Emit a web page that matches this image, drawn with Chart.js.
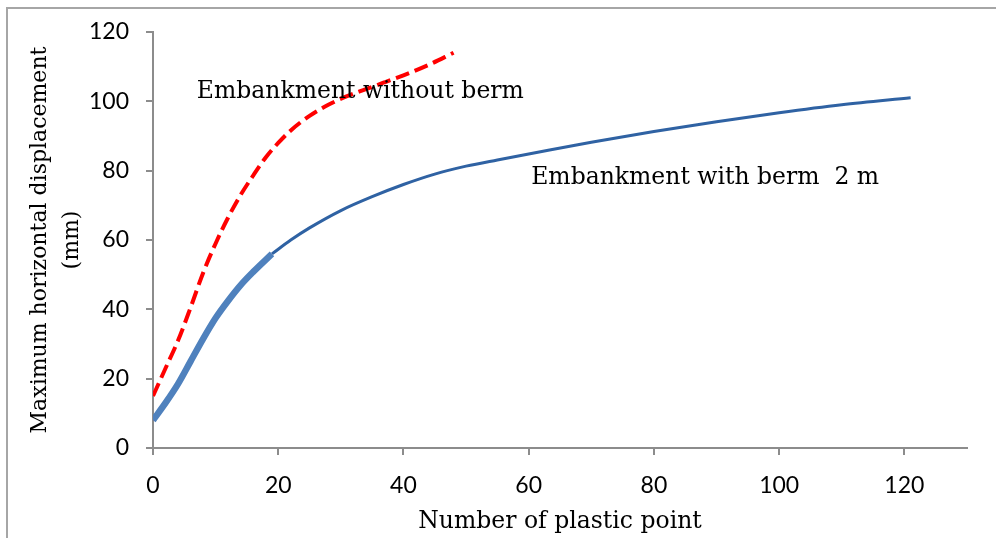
<!DOCTYPE html>
<html>
<head>
<meta charset="utf-8">
<script src="https://cdn.jsdelivr.net/npm/chart.js@4.4.1/dist/chart.umd.min.js"></script>
<style>
  html, body { margin: 0; padding: 0; background: #fff; }
  #wrap { position: relative; width: 996px; height: 538px; overflow: hidden; }
  #frame { position: absolute; left: 6px; top: 7px; right: -4px; bottom: -4px; border-top: 2px solid #a6a6a6; border-left: 2px solid #a6a6a6; pointer-events: none; }
  canvas { position: absolute; left: 0; top: 0; }
</style>
</head>
<body>
<div id="wrap">
  <canvas id="c" width="996" height="538"></canvas>
  <div id="frame"></div>
</div>
<script>
// ---- data ----
const withoutBermX = [0, 2, 4, 6, 8, 10, 12, 14, 16, 18, 20, 22, 25, 28, 31, 34, 37, 40, 44, 48];
const withoutBermY = [15, 23, 31, 40.5, 50.5, 59, 66.5, 73, 78.6, 83.8, 88, 91.6, 95.8, 99, 101.5, 103.5, 105.5, 107.5, 110.5, 114];

const bermEarlyX = [0, 2, 4, 6, 8, 10, 12, 14, 16, 19];
const bermEarlyY = [8, 13, 18.5, 25, 31.5, 37.5, 42.5, 47, 50.8, 56];

const bermLateX = [19, 22, 25, 30, 35, 40, 45, 50, 55, 60, 70, 80, 90, 100, 110, 121];
const bermLateY = [56, 60, 63.5, 68.5, 72.5, 76, 79, 81.3, 83.1, 84.8, 88.2, 91.3, 94.1, 96.7, 99, 101];

const xTicks = [0, 20, 40, 60, 80, 100, 120];
const yTicks = [0, 20, 40, 60, 80, 100, 120];

const xTitle = 'Number of plastic point';
const yTitle = ['Maximum horizontal displacement', '(mm)'];

const noteTexts = ['Embankment without berm', 'Embankment with berm  2 m'];
const noteX = [7.0, 60.4];
const noteY = [102.7, 77.9];

function pts(xs, ys) { return xs.map((x, i) => ({ x: x, y: ys[i] })); }

const notesPlugin = {
  id: 'notes',
  afterDatasetsDraw(chart) {
    const { ctx, scales } = chart;
    ctx.save();
    ctx.font = '23.5px "DejaVu Serif"';
    ctx.fillStyle = '#000';
    ctx.textAlign = 'left';
    ctx.textBaseline = 'middle';
    noteTexts.forEach((t, i) => {
      ctx.fillText(t, scales.x.getPixelForValue(noteX[i]), scales.y.getPixelForValue(noteY[i]));
    });
    ctx.restore();
  }
};

const axisColor = '#8c8c8c';

new Chart(document.getElementById('c'), {
  type: 'line',
  data: {
    datasets: [
      {
        label: 'with berm (early)',
        data: pts(bermEarlyX, bermEarlyY),
        borderColor: '#4f81bd',
        borderWidth: 6.5,
        pointRadius: 0,
        cubicInterpolationMode: 'monotone',
        fill: false
      },
      {
        label: 'inner',
        data: pts(bermEarlyX, bermEarlyY),
        borderColor: '#c0504d',
        borderWidth: 1.3,
        pointRadius: 0,
        cubicInterpolationMode: 'monotone',
        fill: false
      },
      {
        label: 'Embankment with berm 2 m',
        data: pts(bermLateX, bermLateY),
        borderColor: '#2f62a3',
        borderWidth: 3,
        pointRadius: 0,
        cubicInterpolationMode: 'monotone',
        fill: false
      },
      {
        label: 'Embankment without berm',
        data: pts(withoutBermX, withoutBermY),
        borderColor: '#ff0000',
        borderWidth: 4,
        borderDash: [14, 6],
        pointRadius: 0,
        cubicInterpolationMode: 'monotone',
        fill: false
      }
    ]
  },
  options: {
    responsive: false,
    animation: false,
    layout: { padding: { top: 32, right: 29, left: 0, bottom: 0 } },
    plugins: { legend: { display: false }, tooltip: { enabled: false } },
    scales: {
      x: {
        type: 'linear',
        min: 0,
        max: 130,
        afterBuildTicks: (axis) => { axis.ticks = xTicks.map(v => ({ value: v })); },
        afterFit: (axis) => { axis.height = 90; },
        border: { display: true, color: axisColor, width: 2 },
        grid: { display: true, drawOnChartArea: false, drawTicks: true, tickLength: 7, color: axisColor, lineWidth: 2 },
        ticks: { color: '#000', font: { family: 'Lato', size: 23 }, padding: 17, maxRotation: 0 },
        title: { display: true, text: xTitle, color: '#000', font: { family: 'DejaVu Serif', size: 23.5 }, padding: { top: 0, bottom: 2 } }
      },
      y: {
        type: 'linear',
        min: 0,
        max: 120,
        afterBuildTicks: (axis) => { axis.ticks = yTicks.map(v => ({ value: v })); },
        afterFit: (axis) => { axis.width = 153; },
        border: { display: true, color: axisColor, width: 2 },
        grid: { display: true, drawOnChartArea: false, drawTicks: true, tickLength: 7, color: axisColor, lineWidth: 2 },
        ticks: { color: '#000', font: { family: 'Lato', size: 23 }, padding: 17 },
        title: { display: true, text: yTitle, color: '#000', font: { family: 'DejaVu Serif', size: 22, lineHeight: 1.45 }, padding: { top: 24, bottom: 0 } }
      }
    }
  },
  plugins: [notesPlugin]
});
</script>
</body>
</html>
